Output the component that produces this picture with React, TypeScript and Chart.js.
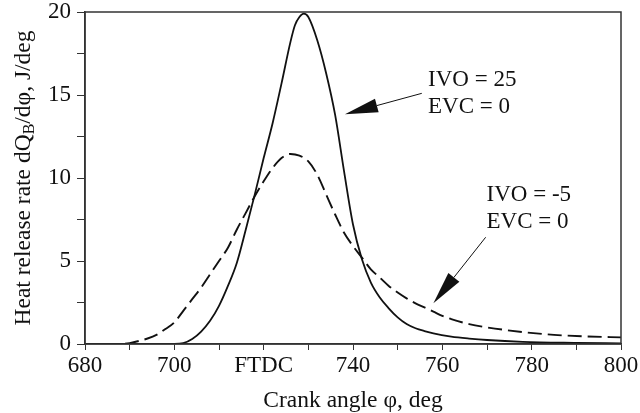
import React, { useEffect, useRef } from "react";
import { Chart, registerables } from "chart.js";
Chart.register(...registerables);

const xSolid = [680, 700, 702, 704, 706, 708, 710, 712, 714, 716, 718, 720, 722, 724, 726, 727, 728, 729, 730, 732, 734, 736, 738, 740, 742, 744, 746, 748, 750, 752, 754, 756, 758, 762, 766, 770, 778, 790, 800];
const ySolid = [0, 0, 0.05, 0.3, 0.75, 1.4, 2.3, 3.5, 4.9, 6.9, 9.0, 11.2, 13.3, 15.7, 18.2, 19.2, 19.7, 19.9, 19.7, 18.3, 16.3, 13.8, 10.4, 7.2, 5.1, 3.7, 2.8, 2.15, 1.6, 1.2, 0.95, 0.78, 0.64, 0.45, 0.33, 0.24, 0.13, 0.07, 0.04];

const xDashed = [680, 688, 690, 692, 694, 696, 698, 700, 702, 704, 706, 708, 710, 712, 714, 716, 718, 720, 722, 724, 726, 728, 730, 732, 734, 736, 738, 740, 742, 744, 746, 748, 750, 752, 754, 756, 758, 760, 762, 766, 770, 778, 785, 792, 800];
const yDashed = [0, 0, 0.05, 0.18, 0.33, 0.55, 0.9, 1.3, 2.0, 2.7, 3.4, 4.2, 5.0, 5.8, 6.9, 7.9, 8.9, 9.8, 10.6, 11.2, 11.45, 11.35, 11.0, 10.2, 9.0, 7.8, 6.7, 5.9, 5.2, 4.5, 4.0, 3.5, 3.1, 2.75, 2.45, 2.2, 1.95, 1.7, 1.5, 1.2, 1.0, 0.72, 0.55, 0.46, 0.4];

const xTickLabels: Record<number, string> = { 680: "680", 700: "700", 720: "FTDC", 740: "740", 760: "760", 780: "780", 800: "800" };
const yTickLabels: Record<number, string> = { 0: "0", 5: "5", 10: "10", 15: "15", 20: "20" };

// annotations in data units
const notes = [
  { lines: ["IVO = 25", "EVC = 0"], x: 756.8, y: 15.9, from: [755.4, 15.1], to: [738.2, 13.84] },
  { lines: ["IVO = -5", "EVC = 0"], x: 769.9, y: 8.95, from: [769.7, 6.43], to: [758.0, 2.45] },
];

const FONT = "'Liberation Serif', 'Times New Roman', serif";

const decorPlugin = {
  id: "decor",
  afterDraw(chart: any) {
    const { ctx, chartArea, scales } = chart;
    const xs = scales.x, ys = scales.y;
    ctx.save();
    // frame
    ctx.strokeStyle = "#333";
    ctx.lineWidth = 1.5;
    ctx.strokeRect(chartArea.left, chartArea.top, chartArea.right - chartArea.left, chartArea.bottom - chartArea.top);
    // annotations
    ctx.fillStyle = "#111";
    ctx.font = `23px ${FONT}`;
    ctx.textBaseline = "middle";
    ctx.textAlign = "left";
    for (const n of notes) {
      const px = xs.getPixelForValue(n.x);
      const py = ys.getPixelForValue(n.y);
      n.lines.forEach((l, i) => ctx.fillText(l, px, py + i * 26.5));
      const x1 = xs.getPixelForValue(n.from[0]), y1 = ys.getPixelForValue(n.from[1]);
      const x2 = xs.getPixelForValue(n.to[0]), y2 = ys.getPixelForValue(n.to[1]);
      const ang = Math.atan2(y2 - y1, x2 - x1);
      const hl = 33, hw = 7;
      const bx = x2 - hl * Math.cos(ang), by = y2 - hl * Math.sin(ang);
      ctx.strokeStyle = "#111";
      ctx.lineWidth = 1;
      ctx.beginPath();
      ctx.moveTo(x1, y1);
      ctx.lineTo(bx, by);
      ctx.stroke();
      ctx.beginPath();
      ctx.moveTo(x2, y2);
      ctx.lineTo(bx + hw * Math.sin(ang), by - hw * Math.cos(ang));
      ctx.lineTo(bx - hw * Math.sin(ang), by + hw * Math.cos(ang));
      ctx.closePath();
      ctx.fill();
    }
    // y-axis title with subscript
    const cy = (chartArea.top + chartArea.bottom) / 2;
    ctx.translate(24, cy);
    ctx.rotate(-Math.PI / 2);
    const big = `23.5px ${FONT}`, small = `16px ${FONT}`;
    const parts: [string, string, number][] = [
      ["Heat release rate dQ", big, 0],
      ["B", small, 6],
      ["/d\u03C6, J/deg", big, 0],
    ];
    let total = 0;
    for (const [t, f] of parts) { ctx.font = f; total += ctx.measureText(t).width; }
    let cx = -total / 2;
    ctx.textAlign = "left";
    ctx.textBaseline = "middle";
    for (const [t, f, dy] of parts) {
      ctx.font = f;
      ctx.fillText(t, cx, dy);
      cx += ctx.measureText(t).width;
    }
    ctx.restore();
  },
};

export default function App() {
  const ref = useRef<HTMLCanvasElement>(null);
  useEffect(() => {
    document.body.style.margin = "0";
    const chart = new Chart(ref.current!, {
      type: "scatter",
      data: {
        datasets: [
          {
            label: "IVO = 25, EVC = 0",
            data: xSolid.map((x, i) => ({ x, y: ySolid[i] })),
            showLine: true,
            borderColor: "#111",
            borderWidth: 1.8,
            pointRadius: 0,
            cubicInterpolationMode: "monotone",
          },
          {
            label: "IVO = -5, EVC = 0",
            data: xDashed.map((x, i) => ({ x, y: yDashed[i] })),
            showLine: true,
            borderColor: "#111",
            borderWidth: 1.9,
            borderDash: [14, 6],
            pointRadius: 0,
            cubicInterpolationMode: "monotone",
          },
        ],
      },
      options: {
        animation: false,
        responsive: false,
        layout: { padding: { top: 12, right: 19, left: 0, bottom: 0 } },
        plugins: { legend: { display: false }, tooltip: { enabled: false } },
        scales: {
          x: {
            type: "linear",
            min: 680,
            max: 800,
            grid: { drawOnChartArea: false, tickLength: 6, color: "#333", lineWidth: 1 },
            border: { color: "#333", width: 1.5 },
            ticks: {
              stepSize: 10,
              autoSkip: false,
              maxRotation: 0,
              color: "#111",
              font: { family: FONT, size: 23 },
              padding: 2,
              callback: (v: any) => xTickLabels[v as number] ?? "",
            },
            title: {
              display: true,
              text: "Crank angle \u03C6, deg",
              color: "#111",
              font: { family: FONT, size: 23.5, lineHeight: 1 },
              padding: { top: 4, bottom: 0 },
            },
            afterFit: (s: any) => { s.height = 69; s.paddingLeft = 0; s.paddingRight = 0; },
          },
          y: {
            type: "linear",
            min: 0,
            max: 20,
            grid: { drawOnChartArea: false, tickLength: 8, color: "#333", lineWidth: 1 },
            border: { color: "#333", width: 1.5 },
            ticks: {
              stepSize: 2.5,
              autoSkip: false,
              color: "#111",
              font: { family: FONT, size: 23 },
              padding: 6,
              callback: (v: any) => yTickLabels[v as number] ?? "",
            },
            afterFit: (s: any) => { s.width = 85; s.paddingTop = 0; s.paddingBottom = 0; },
          },
        },
      },
      plugins: [decorPlugin],
    } as any);
    return () => chart.destroy();
  }, []);
  return (
    <div style={{ width: 640, height: 413 }}>
      <canvas ref={ref} width={640} height={413} />
    </div>
  );
}
